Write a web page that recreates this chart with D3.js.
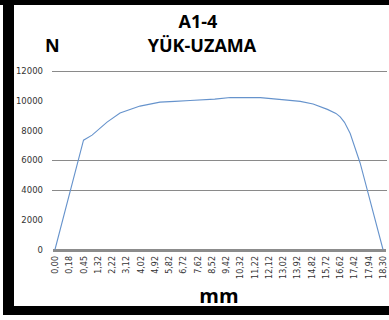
<!DOCTYPE html>
<html>
<head>
<meta charset="utf-8">
<script src="https://cdn.jsdelivr.net/npm/d3@7"></script>
<style>
  body { margin: 0; background: #fff; }
  svg { display: block; }
</style>
</head>
<body>
<svg id="chart" width="389" height="320"></svg>
<script>
// category labels on the x axis (mm)
var mmLabels = ['0,00', '0,18', '0,45', '1,32', '2,22', '3,12', '4,02', '4,92',
	'5,82', '6,72', '7,62', '8,52', '9,42', '10,32', '11,22', '12,12', '13,02',
	'13,92', '14,82', '15,72', '16,62', '17,42', '17,94', '18,30'];

// curve points: position along the category axis and load (N)
var pointPos = [0, 2, 2.6, 3.65, 4.56, 5.96, 7.36, 8.4, 9.47, 11.2, 12.3, 14.4,
	16.1, 17.2, 18.1, 19.1, 19.7, 20.0, 20.3, 20.7, 21.4, 23];
var loadN = [0, 7350, 7690, 8560, 9170, 9640, 9910, 9960, 10020, 10110, 10220, 10210,
	10060, 9960, 9780, 9420, 9150, 8920, 8550, 7800, 5800, 0];

// y axis ticks and the grid lines that show
var yTicks = [0, 2000, 4000, 6000, 8000, 10000, 12000];
var gridValues = [4000, 6000, 12000];

var svg = d3.select('#chart');

// black frame
svg.append('rect').attr('x', 0).attr('y', 0).attr('width', 389).attr('height', 5).attr('fill', '#000');
svg.append('rect').attr('x', 3).attr('y', 0).attr('width', 11).attr('height', 315).attr('fill', '#000');
svg.append('rect').attr('x', 3).attr('y', 306).attr('width', 386).attr('height', 9).attr('fill', '#000');

// scales
var x = d3.scaleLinear().domain([0, mmLabels.length - 1]).range([55, 383]);
var y = d3.scaleLinear().domain([0, 12000]).range([249.5, 71]);

// grid lines
svg.selectAll('.grid').data(gridValues).enter().append('line')
	.attr('class', 'grid')
	.attr('x1', 52).attr('x2', 387)
	.attr('y1', function(d) { return Math.round(y(d)) + 0.5; })
	.attr('y2', function(d) { return Math.round(y(d)) + 0.5; })
	.attr('stroke', '#8a8a8a').attr('stroke-width', 1);

// y axis labels
var yAxis = d3.axisLeft(y).tickValues(yTicks).tickSize(0).tickPadding(0)
	.tickFormat(d3.format('d'));
var gy = svg.append('g').attr('transform', 'translate(43,0)').call(yAxis);
gy.select('.domain').remove();
gy.selectAll('text').attr('font-family', 'DejaVu Sans').attr('font-size', '8.5px')
	.attr('fill', '#333');

// x axis baseline
svg.append('line').attr('x1', 53).attr('x2', 386).attr('y1', 250.5).attr('y2', 250.5)
	.attr('stroke', '#8c8c8c').attr('stroke-width', 3);

// x axis labels (rotated)
svg.selectAll('.xlab').data(mmLabels).enter().append('text')
	.attr('class', 'xlab')
	.attr('transform', function(d, i) {
		return 'translate(' + (x(i) + 3) + ',256) rotate(-90)';
	})
	.attr('text-anchor', 'end')
	.attr('font-family', 'DejaVu Sans').attr('font-size', '8px')
	.attr('fill', '#333')
	.text(function(d) { return d; });

// load curve
var line = d3.line()
	.x(function(d, i) { return x(pointPos[i]); })
	.y(function(d) { return y(d); });
svg.append('path').datum(loadN)
	.attr('d', line)
	.attr('fill', 'none')
	.attr('stroke', '#6693cc').attr('stroke-width', 1.1);

// titles
var titleFont = 'Open Sans, DejaVu Sans, sans-serif';
svg.append('text').attr('x', 198).attr('y', 28).attr('text-anchor', 'middle')
	.attr('font-family', titleFont).attr('font-weight', 'bold').attr('font-size', '18px')
	.text('A1-4');
svg.append('text').attr('x', 202).attr('y', 52).attr('text-anchor', 'middle')
	.attr('font-family', titleFont).attr('font-weight', 'bold').attr('font-size', '18px')
	.text('YÜK-UZAMA');
svg.append('text').attr('x', 45).attr('y', 52)
	.attr('font-family', titleFont).attr('font-weight', 'bold').attr('font-size', '18px')
	.text('N');
svg.append('text').attr('x', 219).attr('y', 303).attr('text-anchor', 'middle')
	.attr('font-family', titleFont).attr('font-weight', 'bold').attr('font-size', '20px')
	.text('mm');
</script>
</body>
</html>
